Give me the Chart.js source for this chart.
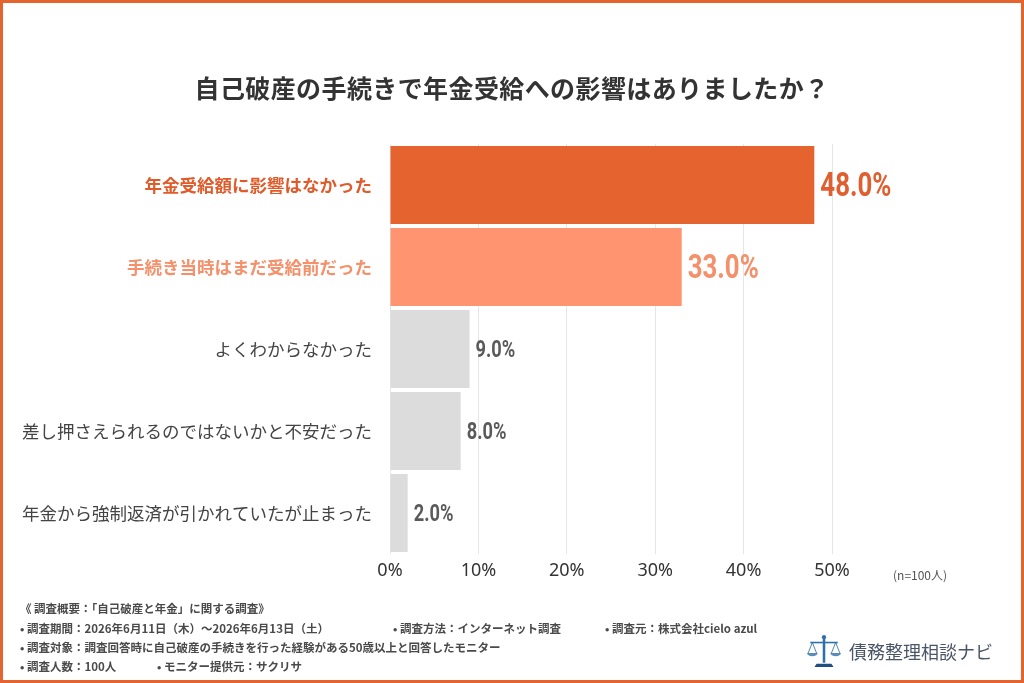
<!DOCTYPE html>
<html lang="ja">
<head>
<meta charset="utf-8">
<script src="https://cdn.jsdelivr.net/npm/chart.js@4/dist/chart.umd.min.js"></script>
<style>
  html, body { margin: 0; padding: 0; background: #fff; }
  #wrap { position: relative; width: 1024px; height: 683px; overflow: hidden; font-family: "Noto Sans CJK JP", "Noto Sans", sans-serif; }
  #frame { position: absolute; left: 0; top: 0; width: 1024px; height: 683px; box-sizing: border-box; border: 3px solid #e4632f; pointer-events: none; }
  #chart { position: absolute; left: 0; top: 0; }
  .title { position: absolute; left: 0; width: 1024px; top: 69px; text-align: center; font-size: 25px; font-weight: 700; color: #333; letter-spacing: 0.4px; }
  .foot { position: absolute; font-size: 11.5px; font-weight: 700; color: #4a4a4a; white-space: nowrap; }
  .n { position: absolute; left: 893px; top: 566px; font-size: 12px; color: #555; }
  .logo { position: absolute; left: 806px; top: 634px; display: flex; align-items: center; color: #4a5668; font-size: 18px; }
</style>
</head>
<body>
<div id="wrap">
  <canvas id="chart" width="1024" height="683"></canvas>
  <div class="title">自己破産の手続きで年金受給への影響はありましたか？</div>
  <div class="n">(n=100人)</div>
  <div class="foot" style="left:20px;top:600px">《 調査概要：「自己破産と年金」に関する調査》</div>
  <div class="foot" style="left:20px;top:620px">• 調査期間：2026年6月11日（木）～2026年6月13日（土）</div>
  <div class="foot" style="left:393px;top:620px">• 調査方法：インターネット調査</div>
  <div class="foot" style="left:605px;top:620px">• 調査元：株式会社cielo azul</div>
  <div class="foot" style="left:20px;top:639px">• 調査対象：調査回答時に自己破産の手続きを行った経験がある50歳以上と回答したモニター</div>
  <div class="foot" style="left:20px;top:658px">• 調査人数：100人</div>
  <div class="foot" style="left:157px;top:658px">• モニター提供元：サクリサ</div>
  <div class="logo">
    <svg width="36" height="34" viewBox="0 0 34 32">
      <g fill="#2f6fa8" stroke="#2f6fa8">
        <circle cx="17" cy="3" r="2" stroke="none"/>
        <line x1="17" y1="4" x2="17" y2="27" stroke-width="2.4"/>
        <line x1="4" y1="8" x2="30" y2="8" stroke-width="1.5"/>
        <path d="M10 28 h14 l2 3 h-18 z" stroke="none" fill="#1f4f80"/>
        <path d="M1 18 h10 a5 3 0 0 1 -10 0 z" stroke="none" opacity="0.8"/>
        <path d="M23 18 h10 a5 3 0 0 1 -10 0 z" stroke="none" opacity="0.8"/>
        <line x1="6" y1="8" x2="2" y2="18" stroke-width="0.8"/>
        <line x1="6" y1="8" x2="10" y2="18" stroke-width="0.8"/>
        <line x1="28" y1="8" x2="24" y2="18" stroke-width="0.8"/>
        <line x1="28" y1="8" x2="32" y2="18" stroke-width="0.8"/>
      </g>
    </svg>
    <span style="margin-left:7px">債務整理相談ナビ</span>
  </div>
  <div id="frame"></div>
</div>
<script>
const categories = [
  "年金受給額に影響はなかった",
  "手続き当時はまだ受給前だった",
  "よくわからなかった",
  "差し押さえられるのではないかと不安だった",
  "年金から強制返済が引かれていたが止まった"
];
const values = [48.0, 33.0, 9.0, 8.0, 2.0];
const tickLabels = ["0%", "10%", "20%", "30%", "40%", "50%"];

const barColors = ["#e4632f", "#ff9470", "#dcdcdc", "#dcdcdc", "#dcdcdc"];
const labelColors = ["#e05a2a", "#f4906a", "#444", "#444", "#444"];

// value labels beside the bars, squeezed horizontally to look condensed
const valueLabels = {
  id: "valueLabels",
  afterDatasetsDraw(chart) {
    const ctx = chart.ctx;
    const meta = chart.getDatasetMeta(0);
    meta.data.forEach((bar, i) => {
      const big = i < 2;
      ctx.save();
      ctx.textBaseline = "middle";
      ctx.textAlign = "left";
      ctx.font = (big ? "bold 34px" : "bold 24px") + " Roboto, sans-serif";
      ctx.fillStyle = i === 0 ? "#e05f30" : i === 1 ? "#f4906a" : "#5a5a5a";
      ctx.translate(bar.x + 6, bar.y + 2);
      ctx.scale(0.76, 1);
      ctx.fillText(values[i].toFixed(1) + "%", 0, 0);
      ctx.restore();
    });
  }
};

new Chart(document.getElementById("chart"), {
  type: "bar",
  data: {
    labels: categories,
    datasets: [{
      data: values,
      backgroundColor: barColors,
      categoryPercentage: 1,
      barPercentage: 0.95
    }]
  },
  options: {
    indexAxis: "y",
    responsive: false,
    animation: false,
    layout: { padding: { top: 144, right: 192, bottom: 89, left: 0 } },
    plugins: { legend: { display: false }, tooltip: { enabled: false } },
    scales: {
      x: {
        min: 0,
        max: 50,
        ticks: {
          stepSize: 10,
          padding: 6,
          color: "#333",
          font: { size: 18, family: '"Noto Sans", sans-serif' },
          callback: (v, i) => tickLabels[i]
        },
        grid: { color: "#e6e6e6", drawTicks: false },
        border: { display: false },
        afterFit: (s) => { s.height = 40; }
      },
      y: {
        ticks: {
          padding: 10,
          color: (c) => labelColors[c.index],
          font: (c) => ({
            size: 17.5,
            weight: c.index < 2 ? "bold" : "normal",
            family: '"Noto Sans CJK JP", sans-serif'
          })
        },
        grid: { display: false },
        border: { display: false },
        afterFit: (s) => { s.width = 390; }
      }
    }
  },
  plugins: [valueLabels]
});
</script>
</body>
</html>
